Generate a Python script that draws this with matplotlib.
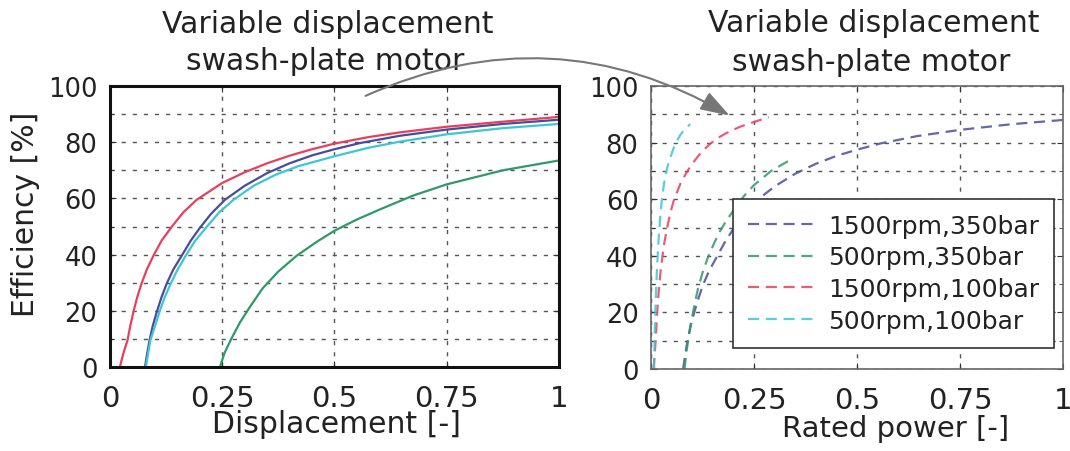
import matplotlib.pyplot as plt
import numpy as np
from matplotlib.patches import FancyArrowPatch
from matplotlib.ticker import MultipleLocator

plt.rcParams['font.family'] = ['DejaVu Sans']

# operating points (legend order)
labels = ['1500rpm,350bar', '500rpm,350bar', '1500rpm,100bar', '500rpm,100bar']
speeds = [1500, 500, 1500, 500]          # rpm
pressures = [350, 350, 100, 100]         # bar
colors = ['#4b4b9c', '#2e9a68', '#e6405e', '#3cc6d6']

# efficiency [%] vs displacement [-]
disp_1500_350 = [0.078, 0.083, 0.088, 0.095, 0.104, 0.114, 0.126, 0.141, 0.16, 0.18, 0.2, 0.225,
                 0.256, 0.3, 0.35, 0.4, 0.45, 0.5, 0.557, 0.646, 0.75, 0.875, 1.0]
eff_1500_350 = [0, 5, 9.5, 14.5, 19.5, 24.5, 29.6, 34.7, 39.7, 45, 49.5, 54.5,
                59.5, 64.5, 69, 72.5, 75.3, 77.5, 79.7, 82.3, 84.5, 86.5, 88]

disp_500_350 = [0.245, 0.255, 0.27, 0.29, 0.31, 0.34, 0.375, 0.415, 0.46, 0.5, 0.55, 0.6,
                0.675, 0.75, 0.875, 1.0]
eff_500_350 = [0, 5, 10, 16, 21, 28, 34, 39.5, 44.5, 48.5, 52.5, 56,
               61, 65, 70, 73.5]

disp_1500_100 = [0.022, 0.03, 0.039, 0.045, 0.052, 0.06, 0.07, 0.082, 0.097, 0.115, 0.137, 0.163,
                 0.193, 0.25, 0.3, 0.35, 0.4, 0.45, 0.5, 0.575, 0.646, 0.75, 0.875, 1.0]
eff_1500_100 = [0, 5, 9.5, 14.5, 19.5, 24.5, 29.6, 34.7, 39.7, 45, 49.8, 55,
                59.5, 65.5, 69.3, 72.5, 75.2, 77.5, 79.5, 81.8, 83.5, 85.5, 87.3, 89]

disp_500_100 = [0.08, 0.085, 0.09, 0.1, 0.11, 0.121, 0.135, 0.15, 0.169, 0.19, 0.215, 0.243,
                0.275, 0.32, 0.37, 0.42, 0.5, 0.575, 0.646, 0.75, 0.875, 1.0]
eff_500_100 = [0, 5, 9.5, 14.5, 19.5, 24.5, 29.6, 34.5, 39.7, 45, 49.8, 55,
               59.5, 64.5, 68.5, 71.5, 75, 78, 80.2, 82.8, 85, 86.5]

disps = [disp_1500_350, disp_500_350, disp_1500_100, disp_500_100]
effs = [eff_1500_350, eff_500_350, eff_1500_100, eff_500_100]

xticks = [0, 0.25, 0.5, 0.75, 1]
xticklabels = ['0', '0.25', '0.5', '0.75', '1']
yticks = [0, 20, 40, 60, 80, 100]

W, H = 1070, 452
fig = plt.figure(figsize=(W / 100, H / 100), dpi=100)
ax1 = fig.add_axes([110 / W, (H - 368) / H, 449 / W, 281 / H])
ax2 = fig.add_axes([651 / W, (H - 370) / H, 412 / W, 283 / H])

txt = '#222222'
for ax in (ax1, ax2):
    ax.set_xlim(0, 1)
    ax.set_ylim(0, 100)
    ax.set_xticks(xticks)
    ax.set_xticklabels(xticklabels)
    ax.set_yticks(yticks)
    ax.yaxis.set_minor_locator(MultipleLocator(10))
    ax.grid(True, which='both', axis='y', color='#555555', linestyle=(0, (3, 5)), linewidth=1.0)
    ax.grid(True, which='major', axis='x', color='#555555', linestyle=(0, (3, 5)), linewidth=1.0)
    ax.tick_params(which='both', direction='in', top=True, right=True, length=4, colors='#333333')
    ax.tick_params(which='minor', length=3)
    ax.tick_params(axis='x', labelsize=21, pad=12, labelcolor=txt)
    ax.tick_params(axis='y', labelsize=18.5, pad=9, labelcolor=txt)
    ax.set_axisbelow(True)

for sp in ax1.spines.values():
    sp.set_linewidth(2.2)
    sp.set_color('#111111')
for sp in ax2.spines.values():
    sp.set_linewidth(1.2)
    sp.set_color('#666666')

# left: efficiency vs displacement
for d, e, c in zip(disps, effs, colors):
    ax1.plot(d, e, color=c, lw=1.6)

# right: efficiency vs rated power (displacement scaled by speed and pressure)
handles = []
for d, e, c, lab, n, p in zip(disps, effs, colors, labels, speeds, pressures):
    power = np.array(d) * (n / 1500) * (p / 350)
    h, = ax2.plot(power, e, color=c, lw=1.6, linestyle=(0, (5, 3)), alpha=0.85, label=lab)
    handles.append(h)

leg = ax2.legend(handles=handles, loc='upper left', bbox_to_anchor=(733 / W, 1 - 200 / H),
                 bbox_transform=fig.transFigure, fontsize=18, fancybox=False, framealpha=1,
                 edgecolor='#333333', borderpad=0.6, handlelength=2.6, handletextpad=0.6,
                 labelspacing=0.3, borderaxespad=0)
leg.get_frame().set_linewidth(1.2)
for t in leg.get_texts():
    t.set_color(txt)

# titles and labels
fig.text(328 / W, 1 - 33 / H, 'Variable displacement', ha='center', va='baseline', fontsize=21.5, color=txt)
fig.text(325 / W, 1 - 70 / H, 'swash-plate motor', ha='center', va='baseline', fontsize=21.5, color=txt)
fig.text(874 / W, 1 - 32 / H, 'Variable displacement', ha='center', va='baseline', fontsize=21.5, color=txt)
fig.text(871 / W, 1 - 71 / H, 'swash-plate motor', ha='center', va='baseline', fontsize=21.5, color=txt)
fig.text(336 / W, 1 - 433 / H, 'Displacement [-]', ha='center', va='baseline', fontsize=21.5, color=txt)
fig.text(896 / W, 1 - 437 / H, 'Rated power [-]', ha='center', va='baseline', fontsize=21, color=txt)
fig.text(26 / W, 1 - 214 / H, 'Efficiency [%]', ha='center', va='center', rotation=90, fontsize=21.5, color=txt)

arrow = FancyArrowPatch((363 / W, 1 - 98 / H), (732 / W, 1 - 118 / H), transform=fig.transFigure,
                        connectionstyle='arc3,rad=-0.26', arrowstyle='-|>,head_length=0.9,head_width=0.3',
                        mutation_scale=20, color='#777777', lw=1.5, zorder=10)
fig.add_artist(arrow)

fig.savefig('out.png', dpi=100)
